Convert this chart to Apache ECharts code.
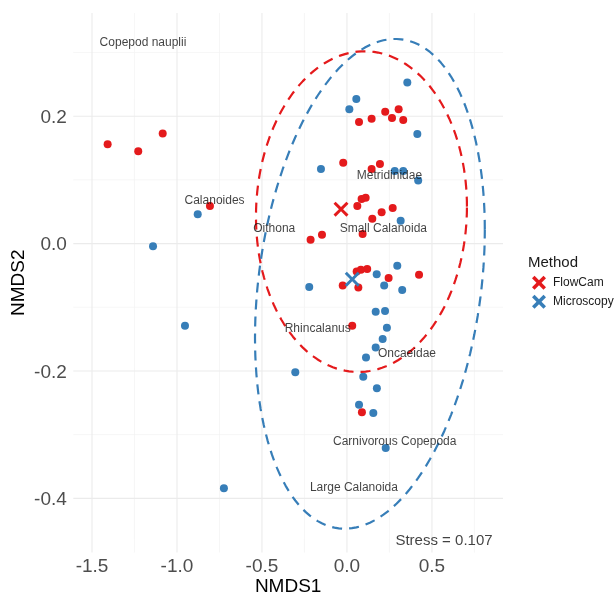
<!DOCTYPE html>
<html>
<head>
<meta charset="utf-8">
<script src="https://cdn.jsdelivr.net/npm/echarts@6/dist/echarts.min.js"></script>
<style>
html,body{margin:0;padding:0;background:#fff;}
#chart{width:616px;height:597px;}
</style>
</head>
<body>
<div id="chart"></div>
<script>
// ---- data ----
const flowcamX = [-1.408,-1.228,-1.084,-0.806,0.071,0.145,0.225,0.304,0.265,0.331,-0.022,0.145,0.194,0.061,0.086,0.110,0.204,0.269,0.149,0.092,-0.214,-0.147,0.057,0.082,0.119,0.424,0.245,-0.025,0.067,0.031,0.088];
const flowcamY = [0.156,0.145,0.173,0.059,0.191,0.196,0.207,0.211,0.197,0.194,0.127,0.117,0.125,0.059,0.070,0.072,0.049,0.056,0.039,0.015,0.006,0.014,-0.044,-0.041,-0.040,-0.049,-0.054,-0.066,-0.069,-0.129,-0.265];
const microscopyX = [-0.878,-1.141,-0.953,-0.724,-0.304,0.355,0.055,0.014,0.414,-0.153,0.281,0.331,0.419,0.316,0.175,0.296,-0.222,0.219,0.325,0.169,0.224,0.235,0.210,0.169,0.112,0.096,0.176,0.071,0.155,0.228];
const microscopyY = [0.046,-0.004,-0.129,-0.384,-0.202,0.253,0.227,0.211,0.172,0.117,0.114,0.114,0.099,0.036,-0.048,-0.035,-0.068,-0.066,-0.073,-0.107,-0.106,-0.132,-0.150,-0.163,-0.179,-0.209,-0.227,-0.253,-0.266,-0.321];
const centroidFlowcam = [-0.035, 0.054];
const centroidMicroscopy = [0.031, -0.056];
// ellipse: [centerX, centerY, halfWidthX, halfHeightY, shearY]
const ellipseFlowcam = [0.0853, 0.0502, 0.6206, 0.2516, 0.0078];
const ellipseMicroscopy = [0.135, -0.0632, 0.676, 0.375, 0.0847];
const taxonNames = ['Copepod nauplii','Calanoides','Oithona','Small Calanoida','Metridinidae','Rhincalanus','Oncaeidae','Carnivorous Copepoda','Large Calanoida'];
const taxonX = [-1.2,-0.779,-0.428,0.214,0.25,-0.172,0.353,0.281,0.041];
const taxonY = [0.316,0.0675,0.024,0.023,0.107,-0.134,-0.1735,-0.3115,-0.383];
const stressText = ['Stress = 0.107'];
const stressX = [0.571];
const stressY = [-0.4675];
const xTicks = [-1.5,-1.0,-0.5,0.0,0.5];
const xTickLabels = ['-1.5','-1.0','-0.5','0.0','0.5'];
const xMinorTicks = [-1.25,-0.75,-0.25,0.25,0.75];
const yTicks = [-0.4,-0.2,0.0,0.2];
const yTickLabels = ['-0.4','-0.2','0.0','0.2'];
const yMinorTicks = [-0.3,-0.1,0.1,0.3];
const xRange = [-1.61, 0.918];
const yRange = [-0.485, 0.362];

// ---- drawing ----
const RED = '#E41A1C', BLUE = '#377EB8';
const FONT = '"Liberation Sans", Arial, Helvetica, sans-serif';
const XPATH = 'path://M0,14L14,0L50,36L86,0L100,14L64,50L100,86L86,100L50,64L14,100L0,86L36,50Z';
const XPATH_BOLD = 'path://M0,18L18,0L50,32L82,0L100,18L68,50L100,82L82,100L50,68L18,100L0,82L32,50Z';

function ellipsePts(e){
  const pts=[]; const n=160;
  for(let i=0;i<=n;i++){
    const t=2*Math.PI*i/n;
    pts.push([e[0]+e[2]*Math.cos(t), e[1]+e[3]*Math.sin(t)+e[4]*Math.cos(t)]);
  }
  return pts;
}
const zip=(a,b)=>a.map((v,i)=>[v,b[i]]);

function vGrid(labels, major){
  return function(params, api){
    const v=api.value(0);
    const b=api.coord([v, yRange[0]]), t=api.coord([v, yRange[1]]);
    const ch=[{type:'line', shape:{x1:b[0],y1:b[1],x2:b[0],y2:t[1]},
      style:{stroke: major?'#EBEBEB':'#F2F2F2', lineWidth: major?1.1:0.7}}];
    if(labels){
      ch.push({type:'text', x:b[0], y:b[1]+14.5,
        style:{text:labels[params.dataIndex], fill:'#4D4D4D', font:'19px '+FONT, align:'center', verticalAlign:'middle'}});
    }
    return {type:'group', children:ch};
  };
}
function hGrid(labels, major){
  return function(params, api){
    const v=api.value(1);
    const l=api.coord([xRange[0], v]), r=api.coord([xRange[1], v]);
    const ch=[{type:'line', shape:{x1:l[0],y1:l[1],x2:r[0],y2:l[1]},
      style:{stroke: major?'#EBEBEB':'#F2F2F2', lineWidth: major?1.1:0.7}}];
    if(labels){
      ch.push({type:'text', x:l[0]-6.5, y:l[1]+1.5,
        style:{text:labels[params.dataIndex], fill:'#4D4D4D', font:'19px '+FONT, align:'right', verticalAlign:'middle'}});
    }
    return {type:'group', children:ch};
  };
}

const chart = echarts.init(document.getElementById('chart'), null, {renderer:'canvas'});
chart.setOption({
  animation:false,
  backgroundColor:'#fff',
  title:{text:'Method', left:528, top:255, padding:0,
    textStyle:{fontSize:15, fontWeight:'normal', color:'#1a1a1a', fontFamily:FONT}},
  legend:{orient:'vertical', left:532, top:275.7, padding:0, itemWidth:14, itemHeight:14, itemGap:5,
    textStyle:{fontSize:12, color:'#1a1a1a', fontFamily:FONT, padding:[0,0,0,2]},
    data:[{name:'FlowCam', icon:XPATH_BOLD},{name:'Microscopy', icon:XPATH_BOLD}]},
  grid:{left:73.3, right:113, top:13, bottom:44.5, containLabel:false, outerBoundsMode:'none'},
  xAxis:{type:'value', min:xRange[0], max:xRange[1],
    axisLine:{show:false}, axisTick:{show:false}, axisLabel:{show:false}, splitLine:{show:false},
    name:'NMDS1', nameLocation:'middle', nameGap:24.5,
    nameTextStyle:{fontSize:19, color:'#000', fontFamily:FONT}},
  yAxis:{type:'value', min:yRange[0], max:yRange[1],
    axisLine:{show:false}, axisTick:{show:false}, axisLabel:{show:false}, splitLine:{show:false},
    name:'NMDS2', nameLocation:'middle', nameGap:45,
    nameTextStyle:{fontSize:19, color:'#000', fontFamily:FONT}},
  series:[
    {type:'custom', silent:true, z:0, renderItem:vGrid(null,false), data:xMinorTicks.map(v=>[v,0])},
    {type:'custom', silent:true, z:0, renderItem:hGrid(null,false), data:yMinorTicks.map(v=>[0,v])},
    {type:'custom', silent:true, z:1, renderItem:vGrid(xTickLabels,true), data:xTicks.map(v=>[v,0])},
    {type:'custom', silent:true, z:1, renderItem:hGrid(yTickLabels,true), data:yTicks.map(v=>[0,v])},
    {name:'FlowCam', type:'scatter', z:3, symbol:'circle', symbolSize:8, itemStyle:{color:RED, opacity:1},
      data:zip(flowcamX, flowcamY)},
    {name:'Microscopy', type:'scatter', z:3, symbol:'circle', symbolSize:8, itemStyle:{color:BLUE, opacity:1},
      data:zip(microscopyX, microscopyY)},
    {name:'FlowCam', type:'line', z:4, showSymbol:false, symbol:'none', smooth:false,
      lineStyle:{color:RED, width:2.2, type:[10,7]}, itemStyle:{color:RED}, data:ellipsePts(ellipseFlowcam)},
    {name:'Microscopy', type:'line', z:4, showSymbol:false, symbol:'none', smooth:false,
      lineStyle:{color:BLUE, width:2.2, type:[10,7]}, itemStyle:{color:BLUE}, data:ellipsePts(ellipseMicroscopy)},
    {name:'FlowCam', type:'scatter', z:5, symbol:XPATH, symbolSize:15, itemStyle:{color:RED, opacity:1},
      data:[centroidFlowcam]},
    {name:'Microscopy', type:'scatter', z:5, symbol:XPATH, symbolSize:15, itemStyle:{color:BLUE, opacity:1},
      data:[centroidMicroscopy]},
    {type:'scatter', z:6, silent:true, symbolSize:1, itemStyle:{color:'rgba(0,0,0,0)'},
      label:{show:true, position:'inside', formatter:'{b}', fontSize:12, color:'#111', fontFamily:FONT},
      data:taxonNames.map((n,i)=>({name:n, value:[taxonX[i], taxonY[i]]}))},
    {type:'scatter', z:6, silent:true, symbolSize:1, itemStyle:{color:'rgba(0,0,0,0)'},
      label:{show:true, position:'inside', formatter:'{b}', fontSize:15, color:'#111', fontFamily:FONT},
      data:stressText.map((n,i)=>({name:n, value:[stressX[i], stressY[i]]}))}
  ]
});
</script>
</body>
</html>
